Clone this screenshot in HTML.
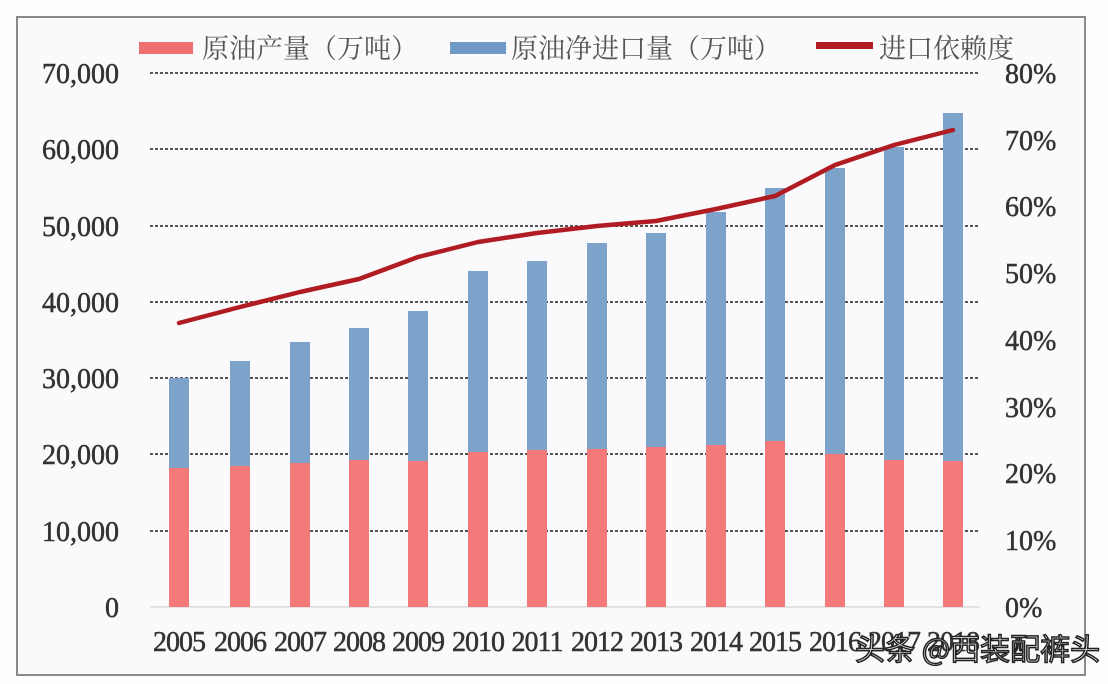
<!DOCTYPE html>
<html><head><meta charset="utf-8"><style>
html,body{margin:0;padding:0;background:#fff;}
svg{display:block}
</style></head><body>
<svg width="1108" height="684" viewBox="0 0 1108 684" xmlns="http://www.w3.org/2000/svg">
<rect x="0" y="0" width="1108" height="684" fill="#fdfdfe"/>
<rect x="17" y="17" width="1068" height="658" fill="#faf9fc" stroke="#8a8a8a" stroke-width="2"/>
<!-- legend -->
<g font-family="'Noto Serif CJK SC','Liberation Serif',serif" font-size="27" fill="#555">
<rect x="139" y="42" width="54" height="12" fill="#f07070"/>
<text x="202" y="58">原油产量（万吨）</text>
<rect x="450" y="42" width="56" height="12" fill="#6f9ac6"/>
<text x="511" y="58">原油净进口量（万吨）</text>
<rect x="816" y="42" width="57" height="7" fill="#b01c22"/>
<text x="879" y="58">进口依赖度</text>
</g>
<!-- grid -->
<g stroke="#555" stroke-width="2" stroke-dasharray="3,2">
<line x1="150" y1="73" x2="980" y2="73"/>
<line x1="150" y1="149" x2="980" y2="149"/>
<line x1="150" y1="226" x2="980" y2="226"/>
<line x1="150" y1="302" x2="980" y2="302"/>
<line x1="150" y1="378" x2="980" y2="378"/>
<line x1="150" y1="454" x2="980" y2="454"/>
<line x1="150" y1="531" x2="980" y2="531"/>
</g>
<line x1="150" y1="607" x2="980" y2="607" stroke="#ccc" stroke-width="1"/>
<!-- bars -->
<g>
<rect x="169" y="378" width="20" height="229" fill="#7ea3cb"/><rect x="169" y="468" width="20" height="139" fill="#f47a7a"/>
<rect x="230" y="361" width="20" height="246" fill="#7ea3cb"/><rect x="230" y="466" width="20" height="141" fill="#f47a7a"/>
<rect x="290" y="342" width="20" height="265" fill="#7ea3cb"/><rect x="290" y="463" width="20" height="144" fill="#f47a7a"/>
<rect x="349" y="328" width="20" height="279" fill="#7ea3cb"/><rect x="349" y="460" width="20" height="147" fill="#f47a7a"/>
<rect x="408" y="311" width="20" height="296" fill="#7ea3cb"/><rect x="408" y="461" width="20" height="146" fill="#f47a7a"/>
<rect x="468" y="271" width="20" height="336" fill="#7ea3cb"/><rect x="468" y="452" width="20" height="155" fill="#f47a7a"/>
<rect x="527" y="261" width="20" height="346" fill="#7ea3cb"/><rect x="527" y="450" width="20" height="157" fill="#f47a7a"/>
<rect x="587" y="243" width="20" height="364" fill="#7ea3cb"/><rect x="587" y="449" width="20" height="158" fill="#f47a7a"/>
<rect x="646" y="233" width="20" height="374" fill="#7ea3cb"/><rect x="646" y="447" width="20" height="160" fill="#f47a7a"/>
<rect x="706" y="212" width="20" height="395" fill="#7ea3cb"/><rect x="706" y="445" width="20" height="162" fill="#f47a7a"/>
<rect x="765" y="188" width="20" height="419" fill="#7ea3cb"/><rect x="765" y="441" width="20" height="166" fill="#f47a7a"/>
<rect x="825" y="168" width="20" height="439" fill="#7ea3cb"/><rect x="825" y="454" width="20" height="153" fill="#f47a7a"/>
<rect x="884" y="147" width="20" height="460" fill="#7ea3cb"/><rect x="884" y="460" width="20" height="147" fill="#f47a7a"/>
<rect x="943" y="113" width="20" height="494" fill="#7ea3cb"/><rect x="943" y="461" width="20" height="146" fill="#f47a7a"/>
</g>
<!-- line -->
<polyline fill="none" stroke="#b01c22" stroke-width="4.5" stroke-linejoin="round" stroke-linecap="round"
points="179,323 240,307 300,292 359,279 418,257 478,242 537,233 597,226 656,221 716,209 775,196 835,165 894,145 953,130"/>
<!-- left axis labels -->
<g font-family="'Liberation Serif',serif" font-size="28" fill="#333" stroke="#333" stroke-width="0.5" text-anchor="end">
<text x="119" y="83">70,000</text>
<text x="119" y="159">60,000</text>
<text x="119" y="236">50,000</text>
<text x="119" y="312">40,000</text>
<text x="119" y="388">30,000</text>
<text x="119" y="464">20,000</text>
<text x="119" y="541">10,000</text>
<text x="119" y="617">0</text>
</g>
<g font-family="'Liberation Serif',serif" font-size="28" fill="#333" stroke="#333" stroke-width="0.5" text-anchor="start">
<text x="1005" y="83">80%</text>
<text x="1005" y="150">70%</text>
<text x="1005" y="216">60%</text>
<text x="1005" y="283">50%</text>
<text x="1005" y="350">40%</text>
<text x="1005" y="417">30%</text>
<text x="1005" y="483">20%</text>
<text x="1005" y="550">10%</text>
<text x="1005" y="617">0%</text>
</g>
<g font-family="'Liberation Serif',serif" font-size="28" fill="#333" stroke="#333" stroke-width="0.5" text-anchor="middle" letter-spacing="-1">
<text x="179" y="651">2005</text><text x="240" y="651">2006</text><text x="300" y="651">2007</text>
<text x="359" y="651">2008</text><text x="418" y="651">2009</text><text x="478" y="651">2010</text>
<text x="537" y="651">2011</text><text x="597" y="651">2012</text><text x="656" y="651">2013</text>
<text x="716" y="651">2014</text><text x="775" y="651">2015</text><text x="835" y="651">2016</text>
<text x="894" y="651">2017</text><text x="953" y="651">2018</text>
</g>
<text x="855" y="660" font-family="'Noto Sans CJK SC','WenQuanYi Zen Hei',sans-serif" font-size="30" fill="#fff" stroke="#222" stroke-width="1.5">头条 @西装配裤头</text>
</svg>
</body></html>
